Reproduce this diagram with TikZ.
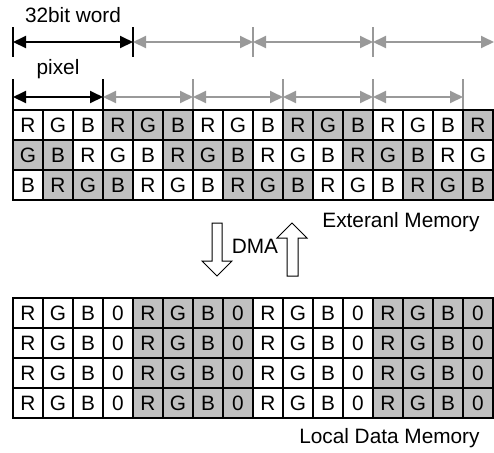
\documentclass[tikz,border=0pt]{standalone}
\usepackage{fontspec}
\setmainfont{Liberation Sans}
\usetikzlibrary{arrows.meta}

\definecolor{cellgray}{HTML}{C0C0C0}
\definecolor{dimgray}{HTML}{999999}

\tikzset{
  lbl/.style={font=\fontsize{10.4}{12}\selectfont, inner sep=0pt},
  cell/.style={lbl, draw=black, line width=1pt, minimum size=15pt, anchor=center},
  tick/.style={line width=0.75pt},
  dim/.style={line width=1pt, <->},
  blockarrow/.style={draw=black, line width=0.5pt, fill=white, line join=miter}
}

\begin{document}
\begin{tikzpicture}[x=0.5pt, y=-0.5pt, >={Triangle[length=6.5pt,width=6pt]}]
  \useasboundingbox (0,0) rectangle (494,452);

  % 32bit words
  \foreach \i in {0,...,3} \coordinate (w\i) at (13+120*\i,42);
  \coordinate (wend) at (494,42);
  \foreach \i/\col in {0/black,1/black,2/dimgray,3/dimgray}
    \draw[tick, \col] (w\i) ++(0,-15) -- ++(0,30);
  \draw[dim, black] (w0) -- (w1);
  \foreach \a/\b in {w1/w2,w2/w3,w3/wend}
    \draw[dim, dimgray] (\a) -- (\b);
  \node[lbl, anchor=base] (wordlbl) at (73,22) {32bit word};

  % pixels
  \foreach \i in {0,...,5} \coordinate (p\i) at (13+90*\i,97);
  \foreach \i/\col in {0/black,1/black,2/dimgray,3/dimgray,4/dimgray,5/dimgray}
    \draw[tick, \col] (p\i) ++(0,-18) -- ++(0,31);
  \draw[dim, black] (p0) -- (p1);
  \foreach \a/\b in {p1/p2,p2/p3,p3/p4,p4/p5}
    \draw[dim, dimgray] (\a) -- (\b);
  \node[lbl, anchor=base] (pixlbl) at (58,74) {pixel};

  % external memory, packed RGB
  \foreach \r in {0,1,2}
    \foreach \c in {0,...,15} {
      \pgfmathtruncatemacro\idx{16*\r+\c}
      \pgfmathtruncatemacro\ch{mod(\idx,3)}
      \pgfmathtruncatemacro\odd{mod(div(\idx,3),2)}
      \ifnum\odd=1 \def\shade{cellgray}\else\def\shade{white}\fi
      \node[cell, fill=\shade] (ext-\r-\c) at (28+30*\c,125+30*\r)
        {\ifcase\ch R\or G\or B\fi};
    }
  \node[lbl, anchor=base east] (extlbl) at (480,227) {Exteranl Memory};

  % DMA transfer
  \draw[blockarrow] (212,223) -- (222,223) -- (222,261) -- (232,261) -- (217,276)
    -- (202,261) -- (212,261) -- cycle;
  \draw[blockarrow] (287,276) -- (298,276) -- (298,238) -- (307,238) -- (292,223)
    -- (277,238) -- (287,238) -- cycle;
  \node[lbl, anchor=base] (dma) at (255,253) {DMA};

  % local data memory, RGB0
  \foreach \r in {0,...,3}
    \foreach \c in {0,...,15} {
      \pgfmathtruncatemacro\ch{mod(\c,4)}
      \pgfmathtruncatemacro\odd{mod(div(\c,4),2)}
      \ifnum\odd=1 \def\shade{cellgray}\else\def\shade{white}\fi
      \node[cell, fill=\shade] (loc-\r-\c) at (28+30*\c,313+30*\r)
        {\ifcase\ch R\or G\or B\or 0\fi};
    }
  \node[lbl, anchor=base east] (loclbl) at (480,443) {Local Data Memory};
\end{tikzpicture}
\end{document}
